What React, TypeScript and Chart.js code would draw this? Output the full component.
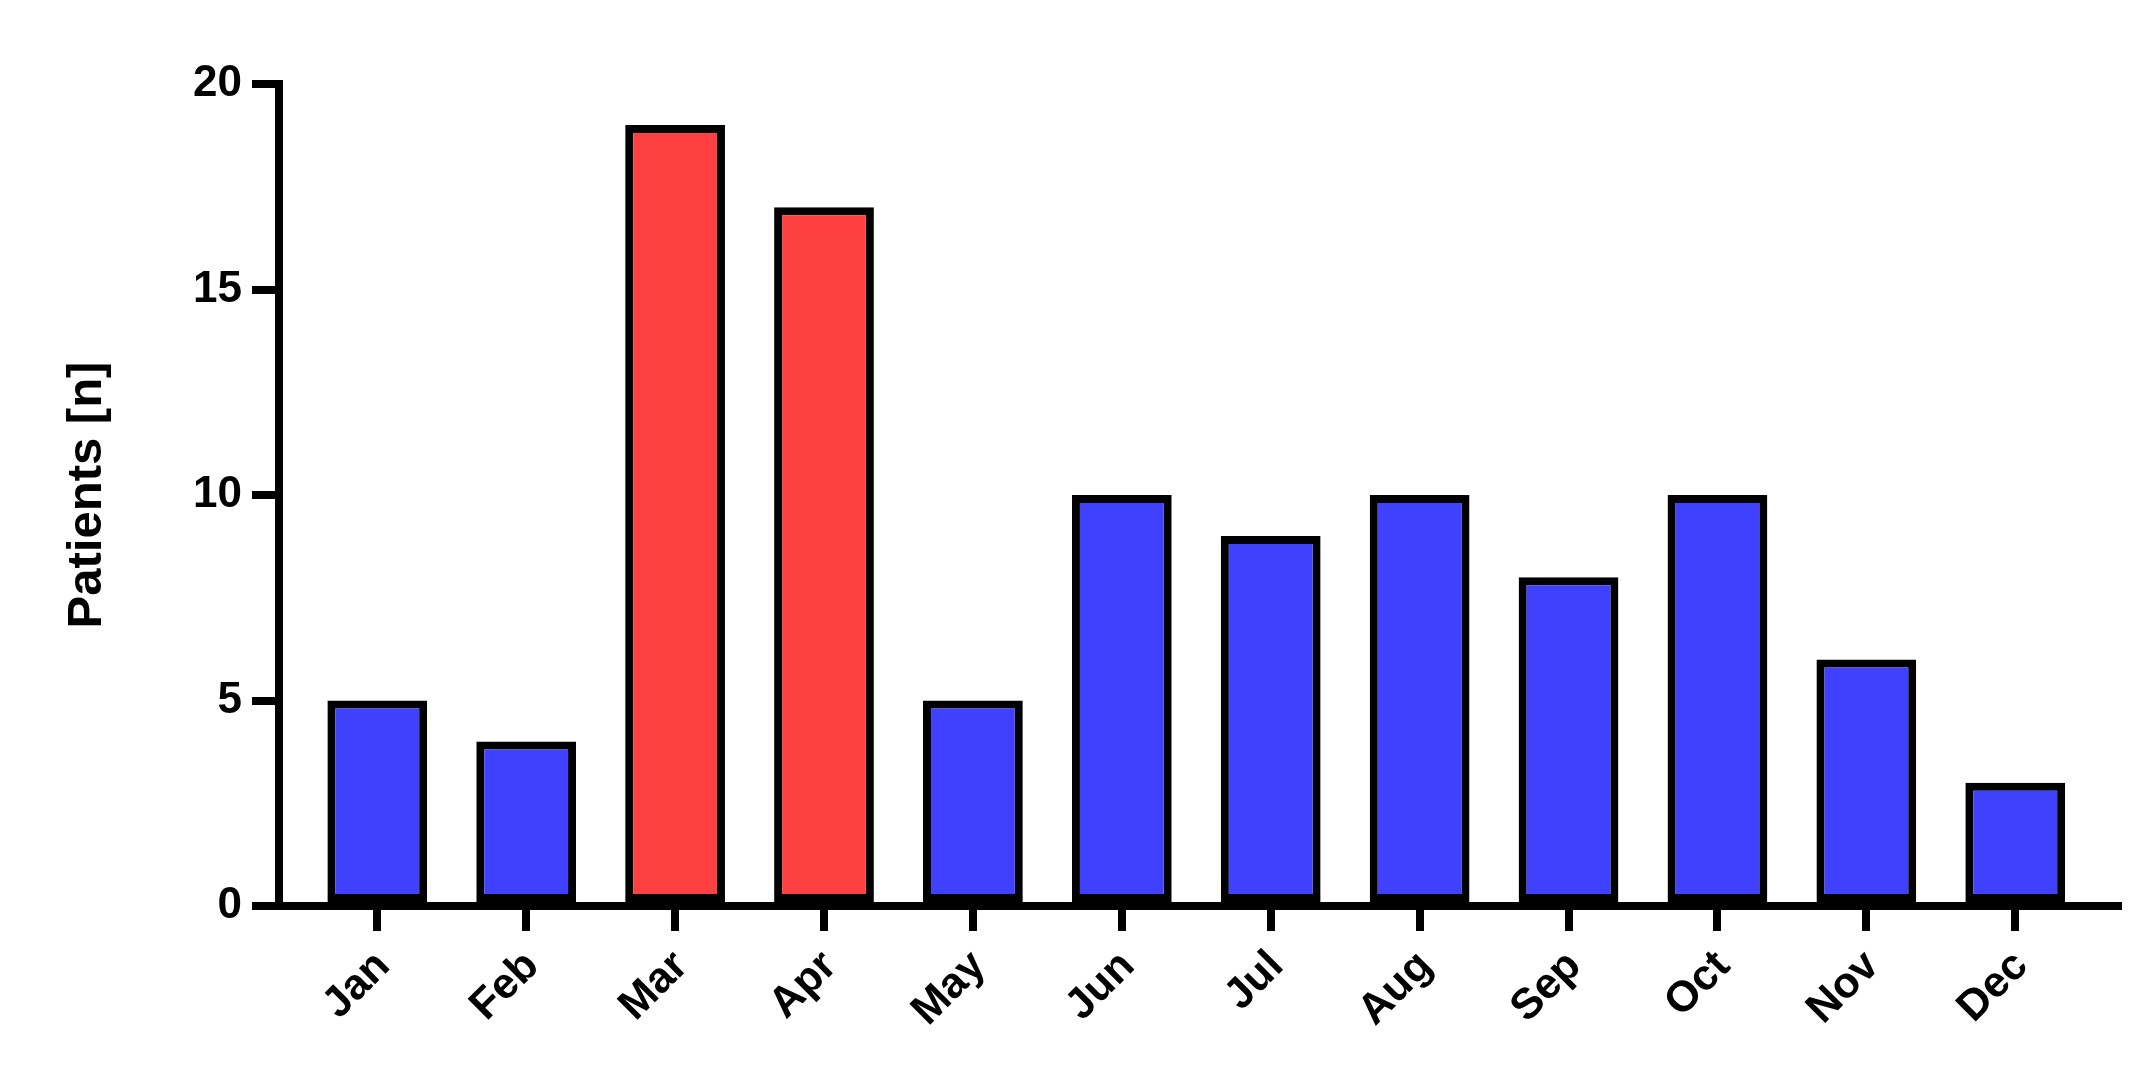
import { useEffect, useRef } from "react";
import { Chart, registerables } from "chart.js";

Chart.register(...registerables);

const months = ["Jan", "Feb", "Mar", "Apr", "May", "Jun", "Jul", "Aug", "Sep", "Oct", "Nov", "Dec"];
const patients = [5, 4, 19, 17, 5, 10, 9, 10, 8, 10, 6, 3];
const highlighted = [false, false, true, true, false, false, false, false, false, false, false, false];
const yTickValues = [0, 5, 10, 15, 20];
const yTitle = "Patients [n]";

const BLUE = "#4040FF";
const RED = "#FF4040";
const FONT_FAMILY = "'Liberation Sans', Arial, Helvetica, sans-serif";

export default function App() {
  const ref = useRef<HTMLCanvasElement>(null);

  useEffect(() => {
    if (!ref.current) return;
    const chart = new Chart(ref.current, {
      type: "bar",
      data: {
        datasets: [
          {
            data: patients.map((v, i) => ({ x: i, y: v })) as any,
            backgroundColor: highlighted.map((h) => (h ? RED : BLUE)),
            borderColor: "#000000",
            borderWidth: 8,
            borderSkipped: false,
            barPercentage: 1,
            categoryPercentage: 0.67,
          },
        ],
      },
      options: {
        responsive: false,
        animation: false,
        devicePixelRatio: 1,
        layout: { padding: { top: 84, right: 36, left: 0, bottom: 0 } },
        plugins: { legend: { display: false }, tooltip: { enabled: false } },
        scales: {
          x: {
            type: "linear",
            min: -0.66,
            max: 11.69,
            offset: false,
            afterBuildTicks: (s: any) => {
              s.ticks = months.map((_, i) => ({ value: i }));
            },
            afterFit: (s: any) => {
              s.height = 177;
            },
            ticks: {
              autoSkip: false,
              maxRotation: 45,
              minRotation: 45,
              color: "#000000",
              padding: 10,
              labelOffset: 6,
              font: { family: FONT_FAMILY, size: 43, weight: "bold" },
              callback: (v: any) => months[v as number] ?? "",
            },
            grid: {
              offset: false,
              drawOnChartArea: false,
              drawTicks: true,
              tickLength: 25,
              lineWidth: 8,
              color: "#000000",
            },
            border: { display: true, width: 8, color: "#000000" },
          },
          y: {
            type: "linear",
            min: 0,
            max: 20,
            afterBuildTicks: (s: any) => {
              s.ticks = yTickValues.map((v) => ({ value: v }));
            },
            afterFit: (s: any) => {
              s.width = 279;
            },
            ticks: {
              color: "#000000",
              padding: 10,
              font: { family: FONT_FAMILY, size: 44, weight: "bold" },
            },
            grid: {
              drawOnChartArea: false,
              drawTicks: true,
              tickLength: 27,
              lineWidth: 8,
              color: "#000000",
            },
            border: { display: true, width: 8, color: "#000000" },
            title: {
              display: true,
              text: yTitle,
              color: "#000000",
              font: { family: FONT_FAMILY, size: 49, weight: "bold" },
              padding: { top: 58, bottom: 0 },
            },
          },
        },
      },
    });
    return () => chart.destroy();
  }, []);

  return (
    <div style={{ position: "absolute", left: 0, top: 0, width: 2154, height: 1083, background: "#ffffff" }}>
      <canvas ref={ref} width={2154} height={1083} style={{ display: "block", width: 2154, height: 1083 }} />
    </div>
  );
}
